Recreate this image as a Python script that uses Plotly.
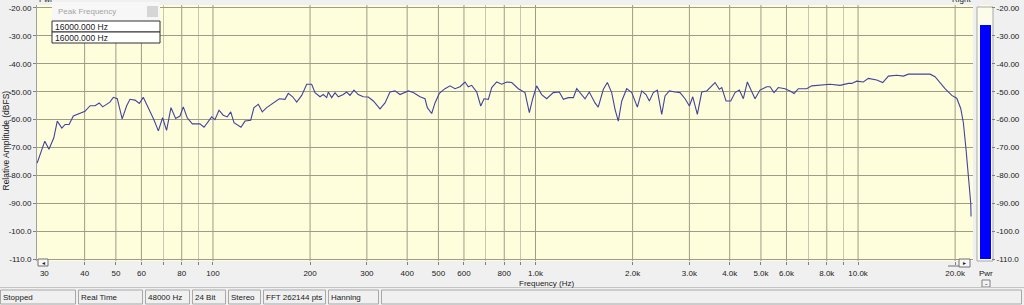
import math
import plotly.graph_objects as go

# ---------------- data ----------------
freq_hz = [
    28.5, 29.3, 30.1, 31.0, 32.1, 32.9, 34.0, 34.8, 35.8, 36.9,
    40.1, 41.6, 43.1, 44.4, 45.5, 47.9, 49.1, 50.5, 52.3, 54.0,
    55.3, 57.3, 59.1, 60.8, 63.0, 65.6, 67.7, 69.8, 71.8, 74.1,
    76.6, 79.0, 80.9, 83.2, 86.3, 91.1, 93.8, 99.1, 101.4, 104.4,
    107.6, 110.7, 113.5, 116.2, 122.1, 125.7, 130.9, 134.0, 138.2, 142.2,
    146.7, 153.8, 160.6, 167.2, 171.2, 176.6, 181.8, 188.4, 195.3, 202.3,
    207.2, 214.7, 219.8, 225.2, 227.8, 233.4, 239.0, 244.7, 253.5, 259.8,
    265.9, 273.6, 282.1, 292.4, 303.1, 314.2, 329.5, 341.5, 353.9, 366.8,
    380.1, 403.3, 417.9, 438.4, 454.4, 461.9, 476.5, 488.0, 503.2, 524.1,
    543.1, 562.9, 583.3, 604.5, 618.9, 634.2, 657.3, 676.3, 692.4, 714.0,
    731.5, 758.1, 785.6, 814.2, 843.8, 884.6, 927.7, 956.8, 980.2, 1008,
    1045, 1083, 1135, 1185, 1220, 1264, 1310, 1342, 1391, 1424,
    1468, 1529, 1565, 1623, 1670, 1723, 1764, 1806, 1851, 1918,
    1988, 2069, 2135, 2201, 2254, 2319, 2386, 2462, 2521, 2599,
    2707, 2806, 2908, 3000, 3073, 3175, 3276, 3395, 3603, 3715,
    3780, 3897, 4030, 4155, 4285, 4409, 4537, 4682, 4793, 4967,
    5211, 5335, 5489, 5661, 5937, 6152, 6333, 6530, 6932, 7183,
    7624, 8189, 8795, 9331, 9561, 9908, 10385, 10763, 11428, 11928,
    12417, 13183, 13819, 14322, 15571, 16718, 17325, 17954, 18607, 19525,
    20230, 20815, 21206, 21620, 21978, 22357, 22408,
]
level_db = [
    -75.5, -71.5, -67.7, -70.6, -66.5, -60.5, -63.0, -61.7, -61.7, -58.7,
    -57.0, -55.0, -55.0, -54.0, -55.4, -53.7, -52.0, -52.5, -59.7, -55.0,
    -52.7, -53.0, -54.2, -52.0, -55.7, -60.0, -64.0, -59.3, -63.8, -55.7,
    -59.6, -58.7, -55.4, -59.3, -61.5, -61.5, -62.7, -59.0, -60.0, -56.6,
    -58.4, -59.0, -57.2, -61.1, -62.7, -60.5, -60.2, -55.7, -54.5, -57.2,
    -55.7, -54.0, -52.5, -52.7, -50.6, -51.8, -53.7, -51.3, -47.3, -47.3,
    -50.3, -51.8, -51.0, -52.1, -50.1, -52.1, -50.3, -51.8, -51.0, -50.1,
    -51.3, -49.4, -51.0, -51.8, -51.9, -53.3, -56.1, -54.0, -50.1, -49.7,
    -51.0, -49.7, -50.3, -51.8, -52.5, -55.7, -57.8, -54.0, -50.6, -48.9,
    -47.9, -48.9, -48.2, -46.5, -48.2, -47.7, -50.1, -55.1, -52.5, -52.7,
    -48.5, -46.5, -47.3, -46.5, -46.7, -48.9, -50.3, -57.5, -52.5, -47.9,
    -51.0, -52.5, -50.3, -50.1, -52.7, -52.1, -52.1, -48.9, -51.3, -52.5,
    -50.1, -54.0, -55.5, -49.1, -46.7, -50.3, -56.3, -60.5, -53.3, -48.9,
    -50.3, -55.5, -49.7, -51.0, -53.3, -50.3, -49.4, -58.1, -51.5, -49.7,
    -50.1, -50.3, -52.5, -55.1, -51.8, -58.1, -50.1, -49.7, -46.7, -49.1,
    -48.5, -53.3, -53.3, -50.3, -49.4, -52.5, -46.5, -50.3, -52.5, -49.4,
    -48.2, -48.2, -50.3, -48.5, -48.9, -49.7, -50.6, -48.9, -48.9, -47.9,
    -47.7, -47.3, -47.7, -47.0, -47.0, -46.2, -46.5, -45.2, -45.8, -46.7,
    -44.4, -44.1, -44.4, -43.7, -43.7, -43.7, -44.6, -46.7, -48.9, -51.3,
    -52.3, -56.0, -61.0, -70.7, -80.3, -89.9, -94.7,
]

x_tick_hz = [30, 40, 50, 60, 80, 100, 200, 300, 400, 500, 600, 800,
             1000, 2000, 3000, 4000, 5000, 6000, 8000, 10000, 20000]
x_tick_text = ["30", "40", "50", "60", "80", "100", "200", "300", "400", "500", "600", "800",
               "1.0k", "2.0k", "3.0k", "4.0k", "5.0k", "6.0k", "8.0k", "10.0k", "20.0k"]
x_minor_hz = [70, 90, 700, 900, 7000, 9000]
x_grid_hz = [40, 50, 60, 80, 100, 200, 300, 400, 500, 600, 800,
             1000, 2000, 3000, 4000, 5000, 6000, 8000, 10000, 20000]
y_tick_db = [-20, -30, -40, -50, -60, -70, -80, -90, -100, -110]
y_tick_text = ["-20.00", "-30.00", "-40.00", "-50.00", "-60.00", "-70.00",
               "-80.00", "-90.00", "-100.0", "-110.0"]
x_range_hz = [28.47, 22720]
y_range_db = [-110.61, -18.93]

meter_level_db = -26.1
meter_floor_db = -110.0
peak_freq_text = ["16000.000 Hz", "16000.000 Hz"]
status_items = ["Stopped", "Real Time", "48000 Hz", "24 Bit", "Stereo",
                "FFT 262144 pts", "Hanning", ""]

# ---------------- layout geometry (pixels) ----------------
W, H = 1024, 305
ML, MR, MT, MB = 37, 31, 5, 44
PW = W - ML - MR
PH = H - MT - MB


def px(x):
    return (x - ML) / PW


def py(y):
    return (H - MB - y) / PH


FONT = "Liberation Sans, Arial, sans-serif"
GRID = "#9e9c86"
GRID_MINOR = "#c9c7b2"
PLOT_BG = "#fefedc"
WIN_BG = "#f0f0f0"
TXT = "#202020"
TICKSIZE = 8

status_cells_px = [(0, 76), (78, 143), (145, 190), (192, 226), (228, 261),
                   (263, 326), (328, 379), (381, 1022)]

fig = go.Figure()

fig.add_trace(go.Scatter(
    x=freq_hz, y=level_db, mode="lines",
    line=dict(color="#43439e", width=1.1),
    xaxis="x", yaxis="y", hoverinfo="skip", showlegend=False,
))

fig.add_trace(go.Bar(
    x=[0], y=[meter_level_db - meter_floor_db], base=[meter_floor_db],
    width=1, marker=dict(color="#0000ff", line=dict(width=0)),
    xaxis="x2", yaxis="y2", hoverinfo="skip", showlegend=False,
))

shapes = []
# vertical major gridlines
for f in x_grid_hz:
    shapes.append(dict(type="line", xref="x", yref="paper", x0=f, x1=f, y0=0, y1=1,
                       line=dict(color=GRID, width=1), layer="below"))

# meter panel
shapes.append(dict(type="rect", xref="paper", yref="paper",
                   x0=px(977), x1=px(993), y0=py(261), y1=py(7),
                   fillcolor="#fcfcea", line=dict(color="#a8a8a8", width=1), layer="below"))

# scroll buttons
shapes.append(dict(type="rect", xref="paper", yref="paper",
                   x0=px(38), x1=px(48), y0=py(266), y1=py(259),
                   fillcolor="#f8f8f8", line=dict(color="#707070", width=1), layer="above"))
shapes.append(dict(type="rect", xref="paper", yref="paper",
                   x0=px(959), x1=px(970), y0=py(267), y1=py(259),
                   fillcolor="#f8f8f8", line=dict(color="#707070", width=1), layer="above"))
shapes.append(dict(type="line", xref="paper", yref="paper",
                   x0=px(948), x1=px(959), y0=py(266), y1=py(266),
                   line=dict(color="#707070", width=1), layer="above"))
# small box under meter Pwr
shapes.append(dict(type="rect", xref="paper", yref="paper",
                   x0=px(982), x1=px(990), y0=py(287), y1=py(280),
                   fillcolor="#f4f4f4", line=dict(color="#808080", width=1), layer="above"))

# Peak frequency popup
shapes.append(dict(type="rect", xref="paper", yref="paper",
                   x0=px(52), x1=px(160), y0=py(21), y1=py(2),
                   fillcolor="#f7f7f7", line=dict(color="#f7f7f7", width=0), layer="above"))
shapes.append(dict(type="rect", xref="paper", yref="paper",
                   x0=px(147), x1=px(158), y0=py(17), y1=py(6),
                   fillcolor="#d6d6d6", line=dict(color="#d6d6d6", width=0), layer="above"))
for (y0, y1) in [(21, 32), (32, 43)]:
    shapes.append(dict(type="rect", xref="paper", yref="paper",
                       x0=px(52), x1=px(160), y0=py(y1), y1=py(y0),
                       fillcolor="#ffffff", line=dict(color="#303030", width=1), layer="above"))

# status bar
shapes.append(dict(type="line", xref="paper", yref="paper",
                   x0=px(0), x1=px(W), y0=py(287.5), y1=py(287.5),
                   line=dict(color="#c4c4c4", width=1), layer="above"))
for (x0, x1) in status_cells_px:
    shapes.append(dict(type="rect", xref="paper", yref="paper",
                       x0=px(x0 + 0.5), x1=px(x1 - 0.5), y0=py(304), y1=py(290),
                       fillcolor=WIN_BG, line=dict(color="#a8a8a8", width=1), layer="above"))

annotations = []


def label(text, x, y, xanchor="left", yanchor="middle", size=8.5, color=TXT, angle=0):
    annotations.append(dict(text=text, xref="paper", yref="paper", x=px(x), y=py(y),
                            xanchor=xanchor, yanchor=yanchor, showarrow=False,
                            textangle=angle, borderpad=0,
                            font=dict(family=FONT, size=size, color=color)))


label("Pwr", 38, 5.5, yanchor="bottom", size=8)
label("Right", 972, 5.5, xanchor="right", yanchor="bottom", size=8)
label("Peak Frequency", 57, 11.5, size=8, color="#a4a4a4")
label(peak_freq_text[0], 54, 27)
label(peak_freq_text[1], 54, 38)
label("Relative Amplitude (dBFS)", 5.5, 141, xanchor="center", angle=-90, size=8.5)
label("Frequency (Hz)", 546, 283, xanchor="center", size=8)
label("Pwr", 986, 273, xanchor="center", size=8)
label("-", 986, 283, xanchor="center", size=7)
label("◂", 43, 262.5, xanchor="center", size=6)
label("▸", 964.5, 263, xanchor="center", size=6)
for (x0, x1), t in zip(status_cells_px, status_items):
    if t:
        label(t, x0 + 2, 297, size=8)

fig.update_layout(
    width=W, height=H,
    margin=dict(l=ML, r=MR, t=MT, b=MB, pad=0),
    paper_bgcolor=WIN_BG, plot_bgcolor=PLOT_BG,
    showlegend=False, bargap=0,
    font=dict(family=FONT, size=8.5, color=TXT),
    xaxis=dict(
        type="log", domain=[0, px(973)], range=[math.log10(v) for v in x_range_hz],
        tickvals=x_tick_hz, ticktext=x_tick_text,
        ticks="outside", ticklen=3, tickcolor="#808080", tickwidth=1,
        showgrid=False, zeroline=False, showline=False,
        tickfont=dict(family=FONT, size=TICKSIZE, color=TXT), ticklabelstandoff=1,
        minor=dict(tickvals=x_minor_hz, ticks="outside", ticklen=3, tickcolor="#808080",
                   showgrid=True, gridcolor=GRID_MINOR, gridwidth=1),
        anchor="y", fixedrange=True,
    ),
    yaxis=dict(
        range=y_range_db, tickvals=y_tick_db, ticktext=y_tick_text,
        ticks="outside", ticklen=3, tickcolor="#808080",
        showgrid=True, gridcolor=GRID, gridwidth=1, zeroline=False,
        showline=True, linecolor="#a0a0a0", linewidth=1,
        tickfont=dict(family=FONT, size=TICKSIZE, color=TXT), anchor="x", fixedrange=True,
    ),
    xaxis2=dict(domain=[px(980), px(991)], range=[-0.5, 0.5], visible=False,
                anchor="y2", fixedrange=True),
    yaxis2=dict(
        range=y_range_db, tickvals=y_tick_db, ticktext=y_tick_text, side="right",
        anchor="x2", ticks="outside", ticklen=3, tickcolor="#808080",
        showgrid=False, zeroline=False, showline=False,
        tickfont=dict(family=FONT, size=TICKSIZE, color=TXT), fixedrange=True,
    ),
    shapes=shapes, annotations=annotations,
)

fig.write_html("out.html", config={"displayModeBar": False})
